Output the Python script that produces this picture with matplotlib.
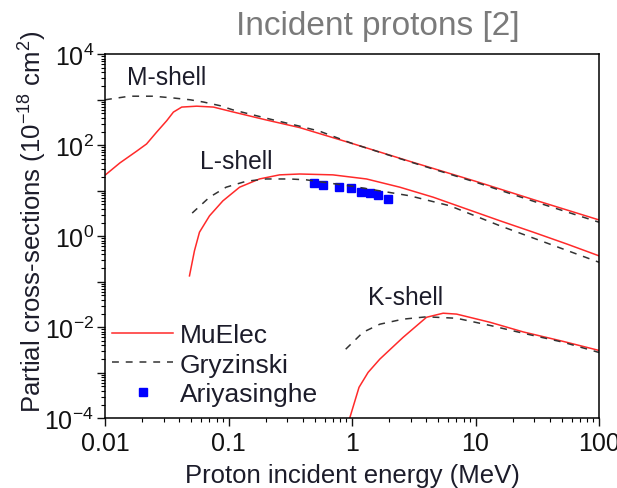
import numpy as np
import matplotlib
matplotlib.use('Agg')
import matplotlib.pyplot as plt
from matplotlib.ticker import LogLocator, FuncFormatter, NullFormatter

plt.rcParams['font.family'] = ['Liberation Sans', 'DejaVu Sans']
plt.rcParams['mathtext.fontset'] = 'custom'
plt.rcParams['mathtext.rm'] = 'Liberation Sans'
plt.rcParams['mathtext.it'] = 'Liberation Sans:italic'
plt.rcParams['mathtext.bf'] = 'Liberation Sans:bold'

# M-shell
m_mu_e = [0.01, 0.0132, 0.018, 0.0217, 0.0262, 0.0316, 0.0358, 0.0418, 0.0553, 0.0755, 0.106, 0.2, 0.377, 1, 3, 10, 30, 100]
m_mu_s = [22, 41, 74, 107, 195, 347, 537, 692, 724, 692, 550, 363, 245, 110, 43.6, 16.2, 6.3, 2.29]
m_gr_e = [0.01, 0.0158, 0.0245, 0.0358, 0.049, 0.063, 0.0857, 0.108, 0.157, 0.229, 0.377, 0.547, 1, 3, 10, 30, 100]
m_gr_s = [1000, 1200, 1200, 1096, 1000, 891, 741, 603, 468, 363, 263, 204, 110, 42.7, 15.5, 5.8, 2.04]

# L-shell
l_mu_e = [0.0483, 0.053, 0.0582, 0.0702, 0.09, 0.123, 0.178, 0.259, 0.377, 0.70, 1.31, 2.44, 4.54, 8.47, 15.8, 29.4, 55, 100]
l_mu_s = [0.135, 0.48, 1.23, 2.82, 6.0, 12.0, 18.2, 22.4, 23.4, 22.4, 18.2, 12.0, 7.24, 3.98, 2.19, 1.23, 0.676, 0.372]
l_gr_e = [0.0508, 0.0702, 0.0957, 0.139, 0.202, 0.313, 0.427, 1, 2.94, 6.2, 15.8, 39.8, 100]
l_gr_s = [3.24, 7.24, 12.0, 16.2, 18.2, 18.2, 17.4, 12.6, 7.76, 4.68, 1.70, 0.676, 0.269]

# K-shell
k_mu_e = [0.957, 1.14, 1.35, 1.68, 2.59, 4.01, 5.47, 7.03, 13.1, 24.4, 51.3, 100]
k_mu_s = [1.0e-4, 4.8e-4, 1.02e-3, 2.0e-3, 6.0e-3, 0.0166, 0.0204, 0.0195, 0.0129, 7.9e-3, 4.9e-3, 3.1e-3]
k_gr_e = [0.889, 1.23, 1.68, 2.59, 4.01, 7.03, 13.1, 24.4, 51.3, 100]
k_gr_s = [3.3e-3, 7.8e-3, 0.0117, 0.0151, 0.017, 0.0158, 0.011, 7.4e-3, 4.7e-3, 2.8e-3]

# Ariyasinghe data (L-shell)
ar_e = [0.49, 0.58, 0.79, 0.99, 1.19, 1.39, 1.63, 1.96]
ar_s = [14.8, 13.5, 12.3, 11.5, 9.3, 8.9, 8.1, 6.6]
ar_err = [1.2, 1.1, 1.0, 0.9, 0.9, 0.8, 0.7, 0.6]

red = '#ff2a2a'
dash = '#333333'
txt = '#1c1c2a'

fig = plt.figure(figsize=(6.17, 4.89), dpi=100)
ax = fig.add_axes([105/617, 1-419.3/489, 494/617, 364/489])

lw = 1.1
ax.plot(m_mu_e, m_mu_s, color=red, lw=lw, label='MuElec')
ax.plot(m_gr_e, m_gr_s, color=dash, lw=lw, dashes=(4.5, 4.5), label='Gryzinski')
ax.plot(l_mu_e, l_mu_s, color=red, lw=lw)
ax.plot(l_gr_e, l_gr_s, color=dash, lw=lw, dashes=(4.5, 4.5))
ax.plot(k_mu_e, k_mu_s, color=red, lw=lw)
ax.plot(k_gr_e, k_gr_s, color=dash, lw=lw, dashes=(4.5, 4.5))
ax.errorbar(ar_e, ar_s, yerr=ar_err, fmt='none', ecolor='#0000ff', elinewidth=0.8,
            capsize=2, zorder=1)
ax.plot(ar_e, ar_s, 's', color='#0000ff', ms=5.5, lw=0, label='Ariyasinghe', zorder=1)

ax.set_xscale('log')
ax.set_yscale('log')
ax.set_xlim(0.01, 100)
ax.set_ylim(1e-4, 1e4)

ax.xaxis.set_major_formatter(FuncFormatter(lambda v, p: '%g' % v))
ax.yaxis.set_major_locator(LogLocator(base=10, numticks=20))
ax.yaxis.set_minor_locator(LogLocator(base=10, subs=np.arange(2, 10), numticks=20))
ax.yaxis.set_minor_formatter(NullFormatter())
ax.xaxis.set_minor_formatter(NullFormatter())


def ylab(v, p):
    e = int(round(np.log10(v)))
    if e % 2:
        return ''
    return r'$\mathregular{10^{%d}}$' % e


ax.yaxis.set_major_formatter(FuncFormatter(ylab))
ax.tick_params(which='major', length=6, width=1, labelsize=18, colors='#111111', pad=3)
ax.tick_params(which='minor', length=3, width=0.8)
ax.tick_params(axis='y', which='major', pad=2)
for s in ax.spines.values():
    s.set_linewidth(1.1)

ax.text(0.0152, 2223, 'M-shell', fontsize=17.7, color=txt, ha='left', va='baseline')
ax.text(0.0583, 31.6, 'L-shell', fontsize=17.7, color=txt, ha='left', va='baseline')
ax.text(1.35, 0.0325, 'K-shell', fontsize=17.7, color=txt, ha='left', va='baseline')

leg = ax.legend(loc='lower left', bbox_to_anchor=(0.015, 0.034), frameon=False, fontsize=19,
                handlelength=2.3, handletextpad=0.25, labelspacing=0.2, borderpad=0,
                borderaxespad=0)
for t in leg.get_texts():
    t.set_color(txt)

fig.text(378/617, 1-35/489, 'Incident protons [2]', fontsize=24, color='#7a7a7a',
         ha='center', va='baseline')
fig.text(352/617, 6/489, 'Proton incident energy (MeV)', fontsize=18.5, color=txt,
         ha='center', va='baseline')
fig.text(33/617, 1-222/489, r'Partial cross-sections (10$^{\mathregular{-18}}$ cm$^{\mathregular{2}}$)',
         fontsize=18.5, color=txt, rotation=90, ha='center', va='center')

fig.savefig('out.png', dpi=100)
